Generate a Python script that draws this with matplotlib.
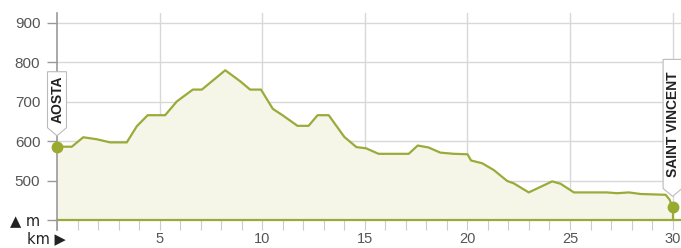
import matplotlib
matplotlib.use("Agg")
import matplotlib.pyplot as plt
from matplotlib.patches import Polygon
import matplotlib.transforms as mtransforms

plt.rcParams['font.family'] = ['Liberation Sans', 'DejaVu Sans']

# ---- data ----
km = [0, 0.72, 1.28, 1.93, 2.59, 3.4, 3.89, 4.42, 5.27, 5.84, 6.62, 7.06, 8.2, 8.93,
      9.41, 9.94, 10.52, 10.96, 11.72, 12.26, 12.7, 13.24, 14.0, 14.59, 15.06, 15.67,
      17.14, 17.58, 18.11, 18.68, 19.33, 19.9, 20.0, 20.18, 20.72, 21.28, 21.94, 22.26,
      22.99, 24.13, 24.54, 25.19, 26.8, 27.3, 27.87, 28.44, 29.66, 29.85, 30.0]
elev = [586, 586, 610, 605, 597, 597, 638, 666, 666, 701, 731, 731, 780, 752,
        731, 731, 682, 667, 639, 639, 666, 666, 611, 585, 582, 568,
        568, 589, 584, 571, 568, 567, 567, 551, 544, 527, 499, 493,
        470, 498, 492, 470, 470, 468, 470, 466, 464, 452, 432]
x_ticks = [5, 10, 15, 20, 25, 30]
y_ticks = [400, 500, 600, 700, 800, 900]
y_labels = ['▲ m', '500', '600', '700', '800', '900']
places = ['AOSTA', 'SAINT VINCENT']

LINE = '#9aab3a'
FILL = '#f6f6e8'
GRID = '#d8d8d8'

W, H = 681, 248
fig = plt.figure(figsize=(W / 100, H / 100), dpi=100)
ax = fig.add_axes([57 / W, 28 / H, 624 / W, 207 / H])
ax.set_xlim(0, 624 / 20.52)
ax.set_ylim(400, 400 + 207 / 0.394)

for s in ax.spines.values():
    s.set_visible(False)

# grid
ax.set_xticks(x_ticks)
ax.set_xticks(range(0, 31), minor=True)
ax.set_yticks(y_ticks)
ax.set_yticklabels(y_labels)
ax.grid(True, which='major', color=GRID, lw=1.0, zorder=0)
ax.set_axisbelow(True)

ax.tick_params(axis='x', which='both', direction='out', length=7, width=0.8,
               color='#cccccc', labelsize=10.5, labelcolor='#555555', pad=1.5)
ax.tick_params(axis='y', which='major', direction='out', length=7, width=1.0,
               color='#999999', labelsize=11, labelcolor='#555555', pad=5)
first = ax.get_yticklabels()[0]
first.set_color('#222222')
first.set_fontfamily(['DejaVu Sans'])
first.set_fontsize(10.5)

# fill + line
ax.fill_between(km, elev, 400, color=FILL, zorder=1, lw=0)
ax.plot(km, elev, color=LINE, lw=1.6, zorder=3, solid_joinstyle='round')

# baseline and left axis
ax.axhline(400, color=LINE, lw=1.6, zorder=4, clip_on=False)
ax.axvline(0, ymin=-10 / 207, ymax=1, color='#999999', lw=1.2, zorder=4, clip_on=False)

# end stem + dots
ax.vlines(km[-1], 400, elev[-1], color=LINE, lw=1.6, zorder=4)
ax.plot([km[0], km[-1]], [elev[0], elev[-1]], 'o', color='#9aaa2e', ms=7.5,
        zorder=6, clip_on=False)


def flag(x, y, text, top_px):
    trans = fig.dpi_scale_trans + mtransforms.ScaledTranslation(x, y, ax.transData)
    hw, tip, sh, top = 9.5 / 100, 11 / 100, 19 / 100, top_px / 100
    verts = [(0, tip), (hw, sh), (hw, top), (-hw, top), (-hw, sh)]
    poly = Polygon(verts, closed=True, transform=trans, facecolor='white',
                   edgecolor='#bbbbbb', lw=0.8, clip_on=False, zorder=5)
    ax.add_artist(poly)
    ax.text(0.005, (sh + top) / 2, text, transform=trans, rotation=90,
            ha='center', va='center', fontsize=10, fontweight='bold',
            color='#222222', zorder=6, clip_on=False)


flag(km[0], elev[0], places[0], 75)
flag(km[-1], elev[-1], places[1], 148)

fig.text(46 / W, 1 - 239 / H, 'km ▶', ha='center', va='center', fontsize=10.5,
         color='#222222', family=['DejaVu Sans'])

fig.savefig('out.png', dpi=100)
